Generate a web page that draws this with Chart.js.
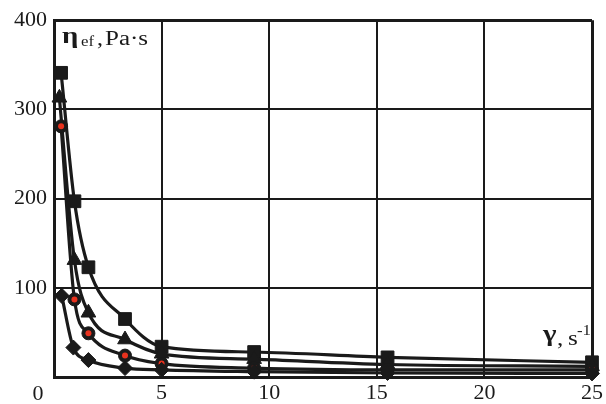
<!DOCTYPE html>
<html>
<head>
<meta charset="utf-8">
<script src="https://cdn.jsdelivr.net/npm/chart.js@4.4.1/dist/chart.umd.min.js"></script>
<style>
html,body{margin:0;padding:0;background:#fff;overflow:hidden;}
#wrap{width:606px;height:404px;position:relative;}
</style>
</head>
<body>
<div id="wrap"><canvas id="c" width="606" height="404"></canvas></div>
<script>
// Shear rate (x) values, s^-1
const squareX   = [0.33, 0.95, 1.6, 3.3, 5, 9.3, 15.5, 25];
const triangleX = [0.25, 0.95, 1.6, 3.3, 5, 9.3, 15.5, 25];
const circleX   = [0.33, 0.95, 1.6, 3.3, 5, 9.3, 15.5, 25];
const diamondX  = [0.36, 0.9, 1.6, 3.3, 5, 9.3, 15.5, 25];
// Effective viscosity, Pa·s
const squareY   = [341, 197, 123, 65, 34, 28, 22, 16.5];
const triangleY = [313, 131, 72, 42, 26, 20, 14, 12];
const circleY   = [281, 87, 49, 24, 15, 10, 8, 8];
const diamondY  = [91, 33, 19, 10, 8, 6, 4.5, 4];
// Axis ticks
const xTicks = [0, 5, 10, 15, 20, 25];
const yTicks = [0, 100, 200, 300, 400];

const pts = (xs, ys) => xs.map((x, i) => ({x: x, y: ys[i]}));
const INK = '#1a1a1a';
const FONT = '"Liberation Serif", "Times New Roman", serif';

function series(xs, ys, style, r) {
  return {
    data: pts(xs, ys), borderColor: INK, borderWidth: 3.2,
    backgroundColor: INK, pointBackgroundColor: INK, pointBorderColor: INK,
    pointStyle: style, pointRadius: r, pointBorderWidth: 1,
    cubicInterpolationMode: 'monotone', fill: false, clip: false
  };
}
function dots(xs, ys, color, r) {
  return {
    data: pts(xs, ys), showLine: false, pointStyle: 'circle', pointRadius: r,
    pointBackgroundColor: color, backgroundColor: color, pointBorderWidth: 0,
    borderColor: color, borderWidth: 0, clip: false
  };
}

function stretched(ctx, text, x, y, font, sx) {
  ctx.save();
  ctx.font = font;
  ctx.translate(x, y);
  ctx.scale(sx, 1);
  ctx.fillText(text, 0, 0);
  ctx.restore();
}

const labelsPlugin = {
  id: 'labels',
  afterDraw(chart) {
    const ctx = chart.ctx;
    const xs = chart.scales.x;
    ctx.save();
    ctx.fillStyle = INK;
    ctx.textBaseline = 'alphabetic';
    ctx.textAlign = 'left';
    // origin label
    ctx.font = '22px ' + FONT;
    ctx.textAlign = 'center';
    ctx.fillText(String(xTicks[0]), xs.getPixelForValue(0) - 16, 400);
    ctx.textAlign = 'left';
    // y axis title
    stretched(ctx, 'η', 62, 43, 'bold 23px ' + FONT, 1.25);
    stretched(ctx, 'ef', 81, 46, '14px ' + FONT, 1.2);
    stretched(ctx, ',', 97, 45, '20px ' + FONT, 1.2);
    stretched(ctx, 'Pa·s', 105, 45, '20px ' + FONT, 1.25);
    // x axis title
    stretched(ctx, 'γ', 543, 341, 'bold 24px ' + FONT, 1.2);
    stretched(ctx, ',', 557, 345, '21px ' + FONT, 1.2);
    stretched(ctx, 's', 568, 345, '21px ' + FONT, 1.2);
    stretched(ctx, '-1', 577, 335, '14px ' + FONT, 1.2);
    ctx.restore();
  }
};

new Chart(document.getElementById('c'), {
  type: 'line',
  data: {
    datasets: [
      series(diamondX, diamondY, 'rectRot', 7.5),
      dots(circleX, circleY, '#e8321e', 3),
      series(circleX, circleY, 'circle', 6.5),
      series(triangleX, triangleY, 'triangle', 8.5),
      series(squareX, squareY, 'rect', 9)
    ]
  },
  options: {
    responsive: false,
    animation: false,
    devicePixelRatio: 1,
    layout: {padding: {top: 15, right: 8, left: 0, bottom: 0}},
    plugins: {legend: {display: false}, tooltip: {enabled: false}},
    scales: {
      x: {
        type: 'linear', min: xTicks[0], max: xTicks[xTicks.length - 1],
        afterBuildTicks: s => { s.ticks = xTicks.map(v => ({value: v})); },
        afterFit: s => { s.height = 27; },
        grid: {color: INK, lineWidth: c => (c.tick && c.tick.value === 25) ? 3 : 2, drawTicks: false},
        border: {color: INK, width: 3},
        ticks: {
          font: {family: FONT, size: 22}, color: INK, padding: 3, maxRotation: 0,
          callback: v => v === 0 ? '' : String(v)
        }
      },
      y: {
        type: 'linear', min: yTicks[0], max: yTicks[yTicks.length - 1],
        afterBuildTicks: s => { s.ticks = yTicks.map(v => ({value: v})); },
        afterFit: s => { s.width = 54; },
        grid: {color: INK, lineWidth: c => (c.tick && c.tick.value === 400) ? 3 : 2, drawTicks: false},
        border: {color: INK, width: 3},
        ticks: {
          font: {family: FONT, size: 22}, color: INK, padding: 7,
          callback: v => v === 0 ? '' : String(v)
        }
      }
    }
  },
  plugins: [labelsPlugin]
});
</script>
</body>
</html>
